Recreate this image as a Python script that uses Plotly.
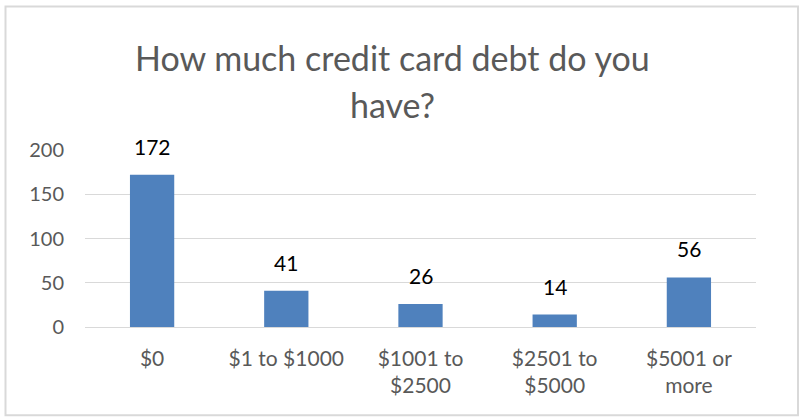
import plotly.graph_objects as go

categories = ["$0", "$1 to $1000", "$1001 to<br>$2500", "$2501 to<br>$5000", "$5001 or<br>more"]
values = [172, 41, 26, 14, 56]
y_ticks = [0, 50, 100, 150, 200]

FONT = "Lato"
GRAY = "#595959"
BAR = "#4F81BD"

fig = go.Figure()
fig.add_trace(go.Bar(
    x=categories, y=values,
    marker=dict(color=BAR, line=dict(width=0)),
    width=0.33,
    hoverinfo="skip",
))

for c, v in zip(categories, values):
    fig.add_annotation(x=c, y=v, text=str(v), showarrow=False,
                       yanchor="bottom", yshift=14,
                       font=dict(family=FONT, size=21, color="#000000"))

L, R, T, B = 85, 43, 149.5, 90
W, H = 799, 417
pw, ph = W - L - R, H - T - B

def px_x(px):
    return (px - L) / pw

def px_y(py):
    return (H - B - py) / ph

fig.add_shape(type="rect", xref="paper", yref="paper",
              x0=px_x(5.5), x1=px_x(798), y0=px_y(415.5), y1=px_y(5.5),
              line=dict(color="#d9d9d9", width=2), layer="below")

fig.add_annotation(xref="paper", yref="paper", x=px_x(392), y=px_y(57),
                   text="How much credit card debt do you", showarrow=False,
                   xanchor="center", yanchor="middle",
                   font=dict(family=FONT, size=34, color=GRAY))
fig.add_annotation(xref="paper", yref="paper", x=px_x(392), y=px_y(104),
                   text="have?", showarrow=False,
                   xanchor="center", yanchor="middle",
                   font=dict(family=FONT, size=34, color=GRAY))

fig.update_layout(
    width=W, height=H,
    margin=dict(l=L, r=R, t=T, b=B, autoexpand=False),
    paper_bgcolor="white", plot_bgcolor="white",
    showlegend=False,
    font=dict(family=FONT, color=GRAY),
    bargap=0.67,
)
fig.update_xaxes(showgrid=False, showline=False, ticks="",
                 ticklabelstandoff=17,
                 tickfont=dict(family=FONT, size=21, color=GRAY))
fig.update_yaxes(range=[0, 200], tickvals=y_ticks, showgrid=True,
                 gridcolor="#d9d9d9", gridwidth=1, zeroline=True,
                 zerolinecolor="#d9d9d9", zerolinewidth=1, showline=False,
                 ticks="", ticklabelstandoff=20,
                 tickfont=dict(family=FONT, size=20, color=GRAY))

fig.write_html("out.html")
